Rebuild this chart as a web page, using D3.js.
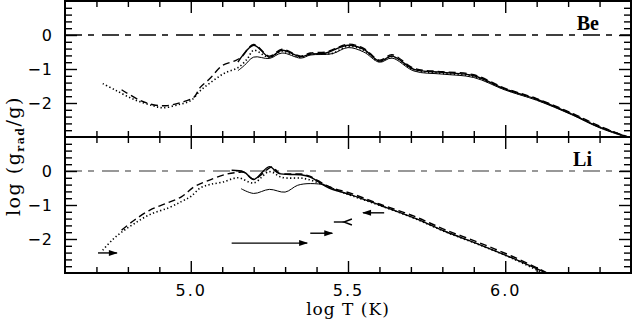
<!DOCTYPE html>
<html>
<head>
<meta charset="utf-8">
<script src="https://cdn.jsdelivr.net/npm/d3@7"></script>
<style>
  body { margin: 0; background: #fff; }
  svg { display: block; }
</style>
</head>
<body>
<div id="chart"></div>
<script>
// valeurs : [log T, log(grad/g)]
const beDashed = [[4.78,-1.61],[4.84,-1.93],[4.88,-2.05],[4.92,-2.08],[4.97,-1.98],[5.01,-1.83],[5.03,-1.54],[5.06,-1.29],[5.10,-0.90],[5.14,-0.76],[5.16,-0.66],[5.20,-0.28],[5.25,-0.62],[5.29,-0.42],[5.35,-0.62],[5.38,-0.53],[5.43,-0.50],[5.46,-0.40],[5.50,-0.27],[5.55,-0.39],[5.60,-0.74],[5.64,-0.58],[5.71,-0.98],[5.80,-1.08],[5.90,-1.17],[6.00,-1.57],[6.10,-1.87],[6.21,-2.29],[6.30,-2.68],[6.39,-3.0]];
const beDotted = [[4.72,-1.43],[4.76,-1.62],[4.82,-1.90],[4.88,-2.08],[4.91,-2.14],[4.96,-2.05],[5.00,-1.93],[5.03,-1.64],[5.07,-1.35],[5.11,-1.11],[5.15,-0.96],[5.18,-0.70],[5.20,-0.45],[5.25,-0.66],[5.29,-0.48],[5.35,-0.66],[5.38,-0.57],[5.45,-0.54],[5.50,-0.33],[5.55,-0.45],[5.60,-0.78],[5.64,-0.64],[5.71,-1.02],[5.80,-1.13],[5.90,-1.22],[6.00,-1.60],[6.10,-1.90],[6.21,-2.31],[6.30,-2.70],[6.39,-3.0]];
const beSolid = [[5.15,-0.80],[5.20,-0.30],[5.25,-0.65],[5.29,-0.45],[5.35,-0.64],[5.38,-0.56],[5.43,-0.53],[5.46,-0.42],[5.50,-0.30],[5.55,-0.42],[5.60,-0.77],[5.64,-0.62],[5.71,-1.01],[5.80,-1.10],[5.90,-1.20],[6.00,-1.59],[6.10,-1.89],[6.21,-2.32],[6.30,-2.71],[6.39,-3.0]];
const beSolidLow = [[5.15,-1.05],[5.17,-0.90],[5.20,-0.65],[5.25,-0.69],[5.29,-0.53],[5.35,-0.68],[5.38,-0.59],[5.45,-0.55],[5.50,-0.37],[5.55,-0.50],[5.60,-0.80],[5.64,-0.68],[5.71,-1.06],[5.80,-1.15],[5.90,-1.25],[6.00,-1.62],[6.10,-1.92],[6.21,-2.34],[6.30,-2.73],[6.39,-3.02]];

const liDashed = [[4.78,-1.74],[4.82,-1.45],[4.87,-1.15],[4.92,-0.96],[4.97,-0.76],[5.01,-0.47],[5.05,-0.30],[5.11,-0.10],[5.15,-0.04],[5.17,-0.04],[5.20,-0.24],[5.26,0.12],[5.28,-0.06],[5.35,-0.09],[5.38,-0.16],[5.44,-0.46],[5.51,-0.66],[5.60,-0.97],[5.71,-1.33],[5.81,-1.73],[5.92,-2.12],[6.02,-2.50],[6.13,-2.98]];
const liDotted = [[4.72,-2.33],[4.75,-2.03],[4.78,-1.80],[4.82,-1.55],[4.87,-1.28],[4.93,-1.08],[4.97,-0.90],[5.00,-0.75],[5.03,-0.50],[5.06,-0.40],[5.10,-0.33],[5.15,-0.20],[5.20,-0.35],[5.25,-0.02],[5.29,-0.19],[5.36,-0.22],[5.41,-0.36],[5.45,-0.52],[5.51,-0.72],[5.60,-1.01],[5.71,-1.39],[5.81,-1.79],[5.92,-2.18],[6.02,-2.56],[6.12,-3.0]];
const liSolid = [[5.13,0.02],[5.17,-0.03],[5.20,-0.25],[5.25,0.13],[5.28,-0.07],[5.35,-0.11],[5.38,-0.18],[5.44,-0.50],[5.51,-0.70],[5.60,-1.00],[5.71,-1.38],[5.81,-1.78],[5.92,-2.17],[6.02,-2.55],[6.13,-3.0]];
const liSolidLow = [[5.16,-0.52],[5.20,-0.66],[5.25,-0.54],[5.30,-0.62],[5.34,-0.42],[5.38,-0.37],[5.43,-0.42],[5.46,-0.55],[5.51,-0.72]];

// flèches du panneau Li : x début, x fin, y, sens
const liArrows = [
  { x0: 4.705, x1: 4.765, y: -2.41, head: "right" },
  { x0: 5.13, x1: 5.37, y: -2.12, head: "right" },
  { x0: 5.38, x1: 5.45, y: -1.83, head: "right" },
  { x0: 5.455, x1: 5.487, y: -1.50, head: "open" },
  { x0: 5.548, x1: 5.615, y: -1.23, head: "left" }
];

const xMajor = [5.0, 5.5, 6.0];
const xLabels = ["5.0", "5.5", "6.0"];
const yMajor = [-2, -1, 0];
const yLabels = ["\u22122", "\u22121", "0"];
const panelNames = ["Be", "Li"];

// 1. Tamanho e escalas
const width = 633, height = 320;
const left = 65, right = 631;
const tops = [1, 137], bottoms = [137, 273];

const svg = d3.select("#chart").append("svg")
  .attr("width", width).attr("height", height);

const x = d3.scaleLinear().domain([4.6, 6.4]).range([left, right]);
const yScales = [0, 1].map(i => d3.scaleLinear().domain([-3, 1]).range([bottoms[i], tops[i]]));

const xMinor = d3.range(4.7, 6.35, 0.1).filter(v => !xMajor.some(m => Math.abs(m - v) < 1e-6));
const yMinor = d3.range(-3, 1.01, 0.2).filter(v => Math.abs(v - Math.round(v)) > 1e-6);

const panels = [
  { y: yScales[0], curves: [beDashed, beDotted, beSolid, beSolidLow], zeroColor: "#000" },
  { y: yScales[1], curves: [liDashed, liDotted, liSolid, liSolidLow], zeroColor: "#777" }
];
const styles = [
  { dash: "7,4", w: 1.4 },
  { dash: "1.3,2.4", w: 1.6 },
  { dash: null, w: 1.4 },
  { dash: null, w: 1.0 }
];

panels.forEach((p, i) => {
  const g = svg.append("g");
  const clipId = "clip" + i;
  svg.append("clipPath").attr("id", clipId)
    .append("rect").attr("x", left).attr("y", tops[i])
    .attr("width", right - left).attr("height", bottoms[i] - tops[i]);

  // ligne y = 0
  g.append("line")
    .attr("x1", left).attr("x2", right)
    .attr("y1", p.y(0)).attr("y2", p.y(0))
    .attr("stroke", p.zeroColor).attr("stroke-width", 1.4)
    .attr("stroke-dasharray", "17,6,6,8");

  // courbes
  const line = d3.line().x(d => x(d[0])).y(d => p.y(d[1])).curve(d3.curveCatmullRom.alpha(0.5));
  const cg = g.append("g").attr("clip-path", `url(#${clipId})`);
  p.curves.forEach((c, k) => {
    cg.append("path")
      .attr("d", line(c))
      .attr("fill", "none")
      .attr("stroke", "#000")
      .attr("stroke-width", styles[k].w)
      .attr("stroke-dasharray", styles[k].dash);
  });

  // graduations
  const tickStyle = sel => {
    sel.select(".domain").remove();
    sel.selectAll("line").attr("stroke", "#000").attr("stroke-width", 1.4);
  };
  g.append("g").attr("transform", `translate(${left},0)`)
    .call(d3.axisLeft(p.y).tickValues(yMinor).tickSize(-7).tickFormat("")).call(tickStyle);
  g.append("g").attr("transform", `translate(${left},0)`)
    .call(d3.axisLeft(p.y).tickValues(yMajor).tickSize(-12).tickPadding(12)
      .tickFormat((d, j) => yLabels[j]))
    .call(tickStyle)
    .selectAll("text").attr("font-family", "DejaVu Sans").attr("font-size", 16)
    .attr("letter-spacing", 1).attr("fill", "#000");
  g.append("g").attr("transform", `translate(${right},0)`)
    .call(d3.axisRight(p.y).tickValues(yMinor).tickSize(-7).tickFormat("")).call(tickStyle);
  g.append("g").attr("transform", `translate(${right},0)`)
    .call(d3.axisRight(p.y).tickValues(yMajor).tickSize(-12).tickFormat("")).call(tickStyle);

  g.append("g").attr("transform", `translate(0,${tops[i]})`)
    .call(d3.axisTop(x).tickValues(xMinor).tickSize(-6).tickFormat("")).call(tickStyle);
  g.append("g").attr("transform", `translate(0,${tops[i]})`)
    .call(d3.axisTop(x).tickValues(xMajor).tickSize(-12).tickFormat("")).call(tickStyle);
  g.append("g").attr("transform", `translate(0,${bottoms[i]})`)
    .call(d3.axisBottom(x).tickValues(xMinor).tickSize(-6).tickFormat("")).call(tickStyle);
  const xb = g.append("g").attr("transform", `translate(0,${bottoms[i]})`)
    .call(d3.axisBottom(x).tickValues(xMajor).tickSize(-12).tickPadding(12)
      .tickFormat((d, j) => i === 1 ? xLabels[j] : ""))
    .call(tickStyle);
  xb.selectAll("text").attr("font-family", "DejaVu Sans").attr("font-size", 16)
    .attr("letter-spacing", 2).attr("fill", "#000");

  // cadre
  g.append("rect")
    .attr("x", left).attr("y", tops[i])
    .attr("width", right - left).attr("height", bottoms[i] - tops[i])
    .attr("fill", "none").attr("stroke", "#000").attr("stroke-width", 2);

  // nom de l'élément
  g.append("text")
    .attr("x", i === 0 ? 599 : 592)
    .attr("y", tops[i] + 29)
    .attr("text-anchor", "end")
    .attr("font-family", "Liberation Serif").attr("font-weight", "bold")
    .attr("font-size", 20)
    .text(panelNames[i]);
});

// flèches (panneau Li)
const yl = yScales[1];
const ag = svg.append("g").attr("stroke", "#000").attr("fill", "#000");
liArrows.forEach(a => {
  const X0 = x(a.x0), X1 = x(a.x1), Y = yl(a.y);
  ag.append("line").attr("x1", X0).attr("x2", X1).attr("y1", Y).attr("y2", Y).attr("stroke-width", 1.4);
  if (a.head === "right") {
    ag.append("path").attr("d", `M${X1 + 1},${Y} L${X1 - 8},${Y - 3} L${X1 - 8},${Y + 3} Z`).attr("stroke", "none");
  } else if (a.head === "left") {
    ag.append("path").attr("d", `M${X0 - 1},${Y} L${X0 + 8},${Y - 3} L${X0 + 8},${Y + 3} Z`).attr("stroke", "none");
  } else {
    ag.append("path").attr("d", `M${X1 + 8},${Y - 3} L${X1},${Y} L${X1 + 8},${Y + 3}`)
      .attr("fill", "none").attr("stroke-width", 1.4);
  }
});

// titres des axes
svg.append("text")
  .attr("x", 348).attr("y", 315)
  .attr("text-anchor", "middle")
  .attr("font-family", "DejaVu Serif").attr("font-size", 17)
  .attr("letter-spacing", 1)
  .text("log T (K)");

const ylab = svg.append("text")
  .attr("transform", "translate(20,156) rotate(-90)")
  .attr("text-anchor", "middle")
  .attr("font-family", "DejaVu Serif").attr("font-size", 19)
  .attr("letter-spacing", 1.5);
ylab.append("tspan").text("log (g");
ylab.append("tspan").attr("font-size", 11).attr("dy", 4).attr("font-weight", "bold").text("rad");
ylab.append("tspan").attr("dy", -4).text("/g)");
</script>
</body>
</html>
